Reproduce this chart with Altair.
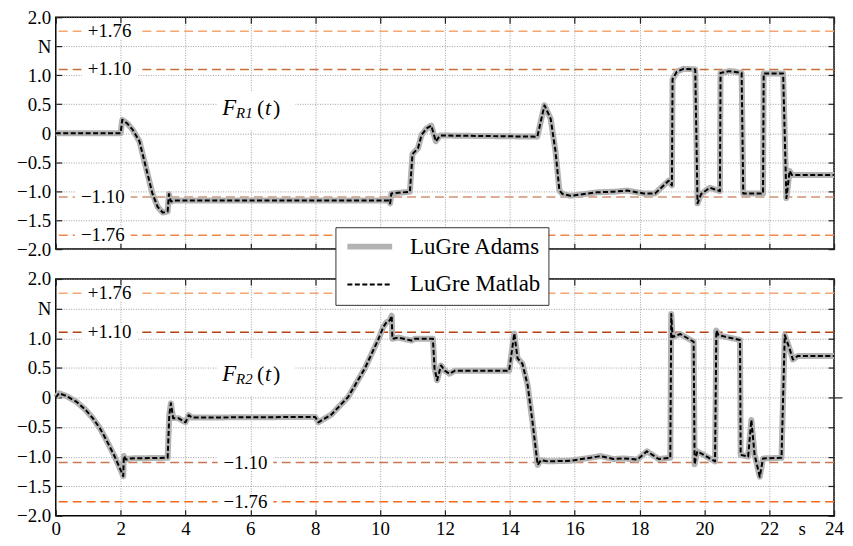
import altair as alt
import pandas as pd

FONT = "Liberation Serif, DejaVu Serif, serif"

# ---- data -------------------------------------------------------------
t_r1 = [0, 2.0, 2.05, 2.2, 2.37, 2.58, 2.78, 2.98, 3.14, 3.3, 3.45, 3.49, 3.55, 3.65,
        10.28, 10.31, 10.35, 10.92, 11.0, 11.17, 11.28, 11.43, 11.58, 11.72, 11.85,
        14.85, 15.07, 15.26, 15.41, 15.53, 15.63, 15.87, 16.7, 17.2, 17.62, 18.13,
        18.48, 18.9, 19.0, 19.02, 19.15, 19.36, 19.72, 19.79, 19.9, 20.17, 20.48,
        20.5, 20.78, 21.15, 21.2, 21.81, 21.83, 22.43, 22.53, 22.63, 22.7, 24]
f_r1 = [0, 0, 0.23, 0.17, 0.06, -0.14, -0.59, -1.04, -1.27, -1.37, -1.35, -1.05, -1.18, -1.16,
        -1.16, -1.21, -1.04, -1.01, -0.36, -0.26, -0.03, 0.08, 0.13, -0.14, -0.04,
        -0.06, 0.48, 0.25, -0.31, -0.99, -1.05, -1.08, -1.02, -1.01, -0.99, -1.04,
        -1.04, -0.82, -0.90, 0.93, 1.06, 1.11, 1.10, -1.21, -1.05, -0.94, -1.00,
        1.04, 1.07, 1.04, -1.04, -1.04, 1.03, 1.03, -1.12, -0.65, -0.72, -0.72]

t_r2 = [0, 0.1, 0.3, 0.63, 0.9, 1.14, 1.36, 1.56, 1.81, 2.02, 2.08, 2.1, 2.17, 2.3,
        3.45, 3.5, 3.55, 3.62, 3.78, 4.0, 4.1, 4.2, 8.0, 8.1, 8.5, 9.02, 9.53, 9.94,
        10.1, 10.2, 10.3, 10.36, 10.38, 10.56, 10.97, 11.07, 11.63, 11.68, 11.76,
        11.88, 12.0, 12.14, 12.3, 13.98, 14.14, 14.24, 14.39, 14.55, 14.7, 14.86,
        14.96, 15.17, 15.88, 16.7, 16.79, 17.2, 17.52, 17.93, 18.23, 18.59, 18.95,
        18.98, 19.02, 19.26, 19.67, 19.7, 19.78, 20.33, 20.37, 20.44, 21.1, 21.12,
        21.35, 21.45, 21.55, 21.71, 21.81, 22.38, 22.48, 22.63, 22.73, 22.88, 24]
f_r2 = [0.0, 0.07, 0.03, -0.07, -0.2, -0.35, -0.52, -0.72, -0.99, -1.25, -1.33, -0.99, -1.05, -1.03,
        -1.02, -0.30, -0.10, -0.35, -0.35, -0.42, -0.30, -0.34, -0.33, -0.42, -0.29, 0.01, 0.49, 0.97,
        1.19, 1.27, 1.30, 1.38, 0.99, 1.01, 0.96, 0.99, 0.99, 0.49, 0.29,
        0.54, 0.45, 0.40, 0.45, 0.45, 1.08, 0.66, 0.57, 0.21, -0.41, -1.14,
        -1.06, -1.08, -1.07, -1.00, -0.99, -1.04, -1.03, -1.05, -0.91, -1.04, -1.02,
        1.41, 1.02, 1.07, 0.94, -1.13, -0.91, -1.08, 1.13, 1.05, 0.97, -0.97,
        -1.00, -0.38, -0.97, -1.34, -1.03, -1.02, 1.05, 0.82, 0.64, 0.70, 0.70]

series_names = ["LuGre Adams", "LuGre Matlab"]
series_colors = ["#b3b3b3", "#000000"]
series_widths = [6, 2]
series_dashes = [[1, 0], [5, 2.5]]

x_ticks = [0, 2, 4, 6, 8, 10, 12, 14, 16, 18, 20, 22, 24]
x_label_ticks = [0, 2, 4, 6, 8, 10, 12, 14, 16, 18, 20, 22, 23, 24]
y_ticks = [-2.0, -1.5, -1.0, -0.5, 0.0, 0.5, 1.0, 1.5, 2.0]

limit_values = [1.76, 1.10, -1.10, -1.76]
limit_labels = ["+1.76", "+1.10", "\u22121.10", "\u22121.76"]
limit_colors_r1 = ["#f5a673", "#c8703c", "#cf9272", "#f0884a"]
limit_colors_r2 = ["#f5a673", "#b5400f", "#c8784f", "#f56a1a"]
limit_label_t_r1 = [1.66, 1.66, 1.45, 1.45]
limit_label_t_r2 = [1.66, 1.66, 5.85, 5.85]

name_subs = ["R1", "R2"]
name_anchor_r1 = (5.13, 0.31)
name_anchor_r2 = (5.13, 0.27)

# ---- chart --------------------------------------------------------------
W = 782
H_TOP, H_BOT = 233, 238
PAD_LEFT, PAD_TOP = 7, -2

xs = alt.Scale(domain=[0, 24], nice=False, zero=False)
ys = alt.Scale(domain=[-2, 2], nice=False, zero=False)

legend = alt.Legend(
    title=None, orient="none", legendX=281, legendY=211,
    symbolType="M-1,0L5,0", symbolSize=225, labelFont=FONT, labelFontSize=23,
    labelColor="black", labelOffset=44, rowPadding=14, padding=8,
    labelExpr="datum.label + '\u2005'",
    strokeColor="#333333", fillColor="white",
)

tick_style = dict(domain=False, labels=False, grid=False, ticks=True, tickSize=6,
                  tickColor="#222222", tickWidth=1.2, title=None, offset=-6)
RECT_LABEL = "M-1,-0.28L1,-0.28L1,0.28L-1,0.28Z"
RECT_NAME = "M-1,-0.48L1,-0.48L1,0.48L-1,0.48Z"


def panel(t, f, lim_colors, lim_t, sub, anchor, bottom, height):
    curve = pd.DataFrame({"t": t, "f": f, "i": list(range(len(t)))})
    limits = pd.DataFrame({"value": limit_values, "label": limit_labels,
                           "color": lim_colors, "lt": lim_t})
    name = pd.DataFrame({"x": [anchor[0]], "y": [anchor[1]],
                         "bx": [anchor[0] + 1.05], "by": [anchor[1] + 0.07]})

    main_x = alt.Axis(
        orient="bottom", values=x_label_ticks, grid=True, gridColor="#888888",
        gridDash=[1, 1.5], gridWidth=0.8,
        gridOpacity={"condition": {"test": "datum.value == 23", "value": 0}, "value": 1},
        ticks=False, tickSize=0, domain=False, labels=bottom, labelPadding=4,
        labelFlush=False,
        labelExpr="datum.value == 23 ? 's' : datum.label", title=None,
    )
    main_y = alt.Axis(
        orient="left", values=y_ticks, grid=True, gridColor="#888888",
        gridDash=[1, 1.5], gridWidth=0.8, ticks=False, tickSize=0, domain=False,
        labelPadding=5,
        labelExpr="datum.value == 1.5 ? 'N' : (datum.value == 0 ? '0' : format(datum.value, '.1f'))",
        title=None,
    )

    rules = alt.Chart(limits).mark_rule(strokeDash=[9, 5], strokeWidth=1.5).encode(
        y=alt.Y("value:Q", scale=ys, axis=None),
        color=alt.Color("color:N", scale=None),
    )
    boxes = alt.Chart(limits).mark_point(
        shape=RECT_LABEL, size=3136, filled=True, color="white", opacity=1, strokeOpacity=0
    ).encode(
        x=alt.X("lt:Q", scale=xs, axis=alt.Axis(orient="bottom", values=x_ticks, **tick_style)),
        y=alt.Y("value:Q", scale=ys, axis=alt.Axis(orient="left", values=y_ticks, **tick_style)),
    )
    right_axis = (alt.Axis(orient="right", values=[0], domain=False, labels=False, grid=False,
                           ticks=True, tickSize=8, tickColor="#222222", tickWidth=1.2, title=None)
                  if bottom else None)
    texts = alt.Chart(limits).mark_text(
        font=FONT, fontSize=19, color="black", align="center", baseline="middle"
    ).encode(
        x=alt.X("lt:Q", scale=xs, axis=None),
        y=alt.Y("value:Q", scale=ys, axis=right_axis),
        text="label:N",
    )
    name_box = alt.Chart(name).mark_point(
        shape=RECT_NAME, size=6241, filled=True, color="white", opacity=1, strokeOpacity=0
    ).encode(x=alt.X("bx:Q", scale=xs, axis=None), y=alt.Y("by:Q", scale=ys, axis=None))

    def piece(txt, size, style, dx, dy=0):
        return alt.Chart(name).mark_text(
            text=txt, font=FONT, fontSize=size, fontStyle=style, align="left",
            baseline="alphabetic", dx=dx, dy=dy, color="black"
        ).encode(x=alt.X("x:Q", scale=xs, axis=None), y=alt.Y("y:Q", scale=ys, axis=None))

    name_txt = (piece("F", 23, "italic", 0) + piece(sub, 15, "italic", 14, 3)
                + piece("(", 22, "normal", 35) + piece("t", 22, "italic", 43)
                + piece(")", 22, "normal", 51))

    def line(k, xaxis, yaxis):
        d = curve.assign(series=series_names[k])
        return alt.Chart(d).mark_line(strokeJoin="round", strokeCap="butt").encode(
            x=alt.X("t:Q", scale=xs, axis=xaxis),
            y=alt.Y("f:Q", scale=ys, axis=yaxis),
            order=alt.Order("i:Q"),
            color=alt.Color("series:N", scale=alt.Scale(domain=series_names, range=series_colors), legend=legend),
            strokeWidth=alt.StrokeWidth("series:N", scale=alt.Scale(domain=series_names, range=series_widths), legend=legend),
            strokeDash=alt.StrokeDash("series:N", scale=alt.Scale(domain=series_names, range=series_dashes), legend=legend),
        )

    adams = line(0, main_x, main_y)
    matlab = line(1, alt.Axis(orient="top", values=x_ticks, **tick_style),
                  alt.Axis(orient="right", values=y_ticks, **tick_style))

    return alt.layer(rules, boxes, texts, name_box, name_txt, adams, matlab).resolve_axis(
        x="independent", y="independent"
    ).properties(width=W, height=height)


top = panel(t_r1, f_r1, limit_colors_r1, limit_label_t_r1, name_subs[0], name_anchor_r1, False, H_TOP)
bot = panel(t_r2, f_r2, limit_colors_r2, limit_label_t_r2, name_subs[1], name_anchor_r2, True, H_BOT)

chart = alt.vconcat(top, bot, spacing=9).properties(
    padding={"left": PAD_LEFT, "top": PAD_TOP, "right": 0, "bottom": 0}
).configure(font=FONT).configure_view(
    stroke="black", strokeWidth=1.5
).configure_axis(
    labelFont=FONT, labelFontSize=19, labelColor="black"
)

chart.save("out.html", embed_options={"renderer": "svg", "actions": False})
